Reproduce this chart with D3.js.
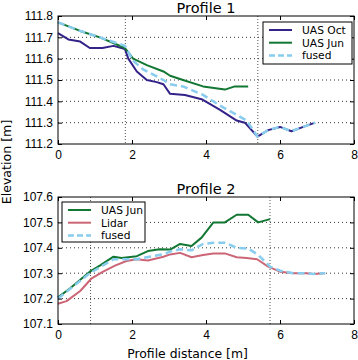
<!DOCTYPE html>
<html>
<head>
<meta charset="utf-8">
<script src="https://d3js.org/d3.v7.min.js"></script>
<style>
  body { margin: 0; background: #fff; }
  svg { font-family: "DejaVu Sans", sans-serif; }
  .tick text { font-size: 12px; fill: #000; }
</style>
</head>
<body>
<div id="chart"></div>
<script>
// Profile 1 series
const p1OctX = [0, 0.28, 0.6, 0.86, 1.2, 1.5, 1.81, 1.9, 2.13, 2.4, 2.67, 2.85, 3.03, 3.43, 3.88, 4.38, 4.83, 5.05, 5.39, 5.68, 6.0, 6.31, 6.63, 6.95];
const p1OctY = [111.72, 111.69, 111.68, 111.65, 111.65, 111.66, 111.645, 111.6, 111.54, 111.5, 111.49, 111.48, 111.435, 111.43, 111.41, 111.36, 111.31, 111.3, 111.235, 111.265, 111.28, 111.26, 111.28, 111.3];
const p1JunX = [0, 0.6, 1.13, 1.81, 2.03, 2.4, 2.85, 3.03, 3.38, 3.92, 4.51, 4.78, 5.14];
const p1JunY = [111.77, 111.73, 111.7, 111.65, 111.6, 111.57, 111.54, 111.52, 111.5, 111.47, 111.455, 111.47, 111.47];
const p1FusX = [0, 0.6, 1.13, 1.81, 2.03, 2.3, 2.85, 3.03, 3.38, 3.92, 4.38, 5.1, 5.39, 5.68, 6.0, 6.31, 6.63, 6.95];
const p1FusY = [111.77, 111.73, 111.7, 111.66, 111.59, 111.55, 111.5, 111.48, 111.47, 111.43, 111.38, 111.31, 111.235, 111.265, 111.28, 111.26, 111.28, 111.3];
const p1Marks = [1.82, 5.4];

// Profile 2 series
const p2JunX = [0, 0.32, 0.86, 1.13, 1.5, 1.72, 2.13, 2.43, 2.75, 3.03, 3.3, 3.61, 3.88, 4.2, 4.51, 4.83, 5.14, 5.41, 5.73];
const p2JunY = [107.205, 107.24, 107.306, 107.33, 107.365, 107.36, 107.367, 107.387, 107.394, 107.393, 107.415, 107.407, 107.44, 107.5, 107.5, 107.53, 107.53, 107.5, 107.513];
const p2LidX = [0, 0.23, 0.6, 0.91, 1.22, 1.54, 1.85, 2.13, 2.43, 2.85, 3.03, 3.3, 3.61, 3.92, 4.2, 4.51, 4.83, 5.1, 5.38, 5.68, 6.0, 6.36, 6.72, 6.9, 7.22];
const p2LidY = [107.18, 107.19, 107.23, 107.28, 107.306, 107.33, 107.348, 107.355, 107.35, 107.365, 107.374, 107.38, 107.363, 107.372, 107.378, 107.378, 107.363, 107.36, 107.355, 107.326, 107.306, 107.3, 107.3, 107.297, 107.3];
const p2FusX = [0, 0.86, 1.5, 2.13, 2.85, 3.03, 3.3, 3.61, 3.92, 4.2, 4.51, 4.83, 5.14, 5.41, 5.73, 6.0, 6.36, 6.72, 6.9, 7.22];
const p2FusY = [107.2, 107.3, 107.355, 107.355, 107.375, 107.385, 107.394, 107.39, 107.415, 107.42, 107.42, 107.4, 107.397, 107.372, 107.326, 107.31, 107.3, 107.3, 107.297, 107.3];
const p2Marks = [0.88, 5.73];

const xTicks = [0, 2, 4, 6, 8];
const p1Ticks = [111.2, 111.3, 111.4, 111.5, 111.6, 111.7, 111.8];
const p2Ticks = [107.1, 107.2, 107.3, 107.4, 107.5, 107.6];

const colOct = "#332288", colJun = "#117733", colFus = "#88ccee", colLid = "#cc6677";

const W = 358, H = 360;
const svg = d3.select("#chart").append("svg").attr("width", W).attr("height", H);

const x = d3.scaleLinear().domain([0, 8]).range([58, 354]);

function panel(top, bottom, yDomain, yTicks, title, series, marks, legendPos) {
  const y = d3.scaleLinear().domain(yDomain).range([bottom, top]);
  const g = svg.append("g");

  // horizontal grid
  g.selectAll("line.grid").data(yTicks.slice(1, -1)).join("line")
    .attr("x1", x(0)).attr("x2", x(8))
    .attr("y1", d => y(d)).attr("y2", d => y(d))
    .attr("stroke", "#000").attr("stroke-width", 0.8).attr("stroke-dasharray", "1,3");

  // marker lines
  g.selectAll("line.mark").data(marks).join("line")
    .attr("x1", d => x(d)).attr("x2", d => x(d))
    .attr("y1", top).attr("y2", bottom)
    .attr("stroke", "#555").attr("stroke-width", 1).attr("stroke-dasharray", "1,2");

  const line = d3.line().x(d => x(d[0])).y(d => y(d[1]));
  series.forEach(s => {
    g.append("path")
      .datum(s.xs.map((v, i) => [v, s.ys[i]]))
      .attr("fill", "none")
      .attr("stroke", s.color)
      .attr("stroke-width", s.dash ? 2.5 : 2)
      .attr("stroke-dasharray", s.dash ? "7,4" : null)
      .attr("stroke-linejoin", "round")
      .attr("d", line);
  });

  // axes with inward ticks
  const fmt = d3.format(".1f");
  g.append("g").attr("transform", `translate(0,${bottom})`)
    .call(d3.axisBottom(x).tickValues(xTicks).tickFormat(d3.format("d")).tickSizeInner(-4).tickSizeOuter(0).tickPadding(6));
  g.append("g").attr("transform", `translate(0,${top})`)
    .call(d3.axisTop(x).tickValues(xTicks).tickFormat("").tickSizeInner(-4).tickSizeOuter(0));
  g.append("g").attr("transform", `translate(${x(0)},0)`)
    .call(d3.axisLeft(y).tickValues(yTicks).tickFormat(fmt).tickSizeInner(-4).tickSizeOuter(0).tickPadding(5));
  g.append("g").attr("transform", `translate(${x(8)},0)`)
    .call(d3.axisRight(y).tickValues(yTicks).tickFormat("").tickSizeInner(-4).tickSizeOuter(0));
  g.selectAll(".domain").remove();

  g.append("rect").attr("x", x(0)).attr("y", top).attr("width", x(8) - x(0)).attr("height", bottom - top)
    .attr("fill", "none").attr("stroke", "#000").attr("stroke-width", 1);

  g.append("text").attr("x", (x(0) + x(8)) / 2).attr("y", top - 3)
    .attr("text-anchor", "middle").attr("font-size", 14.5).text(title);

  // legend
  const [lx, ly, lw, lh] = legendPos;
  const lg = g.append("g").attr("transform", `translate(${lx},${ly})`);
  lg.append("rect").attr("width", lw).attr("height", lh)
    .attr("fill", "#fff").attr("stroke", "#000").attr("stroke-width", 1);
  series.forEach((s, i) => {
    const yy = 8 + i * 12.7;
    lg.append("line").attr("x1", 6).attr("x2", 29).attr("y1", yy).attr("y2", yy)
      .attr("stroke", s.color).attr("stroke-width", s.dash ? 2.5 : 2)
      .attr("stroke-dasharray", s.dash ? "6,3" : null);
    lg.append("text").attr("x", 39).attr("y", yy + 4).attr("font-size", 10.7).text(s.name);
  });
}

panel(16, 144, [111.2, 111.8], p1Ticks, "Profile 1", [
  { name: "UAS Oct", xs: p1OctX, ys: p1OctY, color: colOct },
  { name: "UAS Jun", xs: p1JunX, ys: p1JunY, color: colJun },
  { name: "fused", xs: p1FusX, ys: p1FusY, color: colFus, dash: true }
], p1Marks, [263, 22, 89, 42]);

panel(197, 324, [107.1, 107.6], p2Ticks, "Profile 2", [
  { name: "UAS Jun", xs: p2JunX, ys: p2JunY, color: colJun },
  { name: "Lidar", xs: p2LidX, ys: p2LidY, color: colLid },
  { name: "fused", xs: p2FusX, ys: p2FusY, color: colFus, dash: true }
], p2Marks, [62, 202, 83, 40]);

svg.append("text").attr("x", 187.5).attr("y", 357.5).attr("text-anchor", "middle")
  .attr("font-size", 12.4).text("Profile distance [m]");
svg.append("text").attr("transform", "translate(11,162) rotate(-90)").attr("text-anchor", "middle")
  .attr("font-size", 12.6).text("Elevation [m]");
</script>
</body>
</html>
